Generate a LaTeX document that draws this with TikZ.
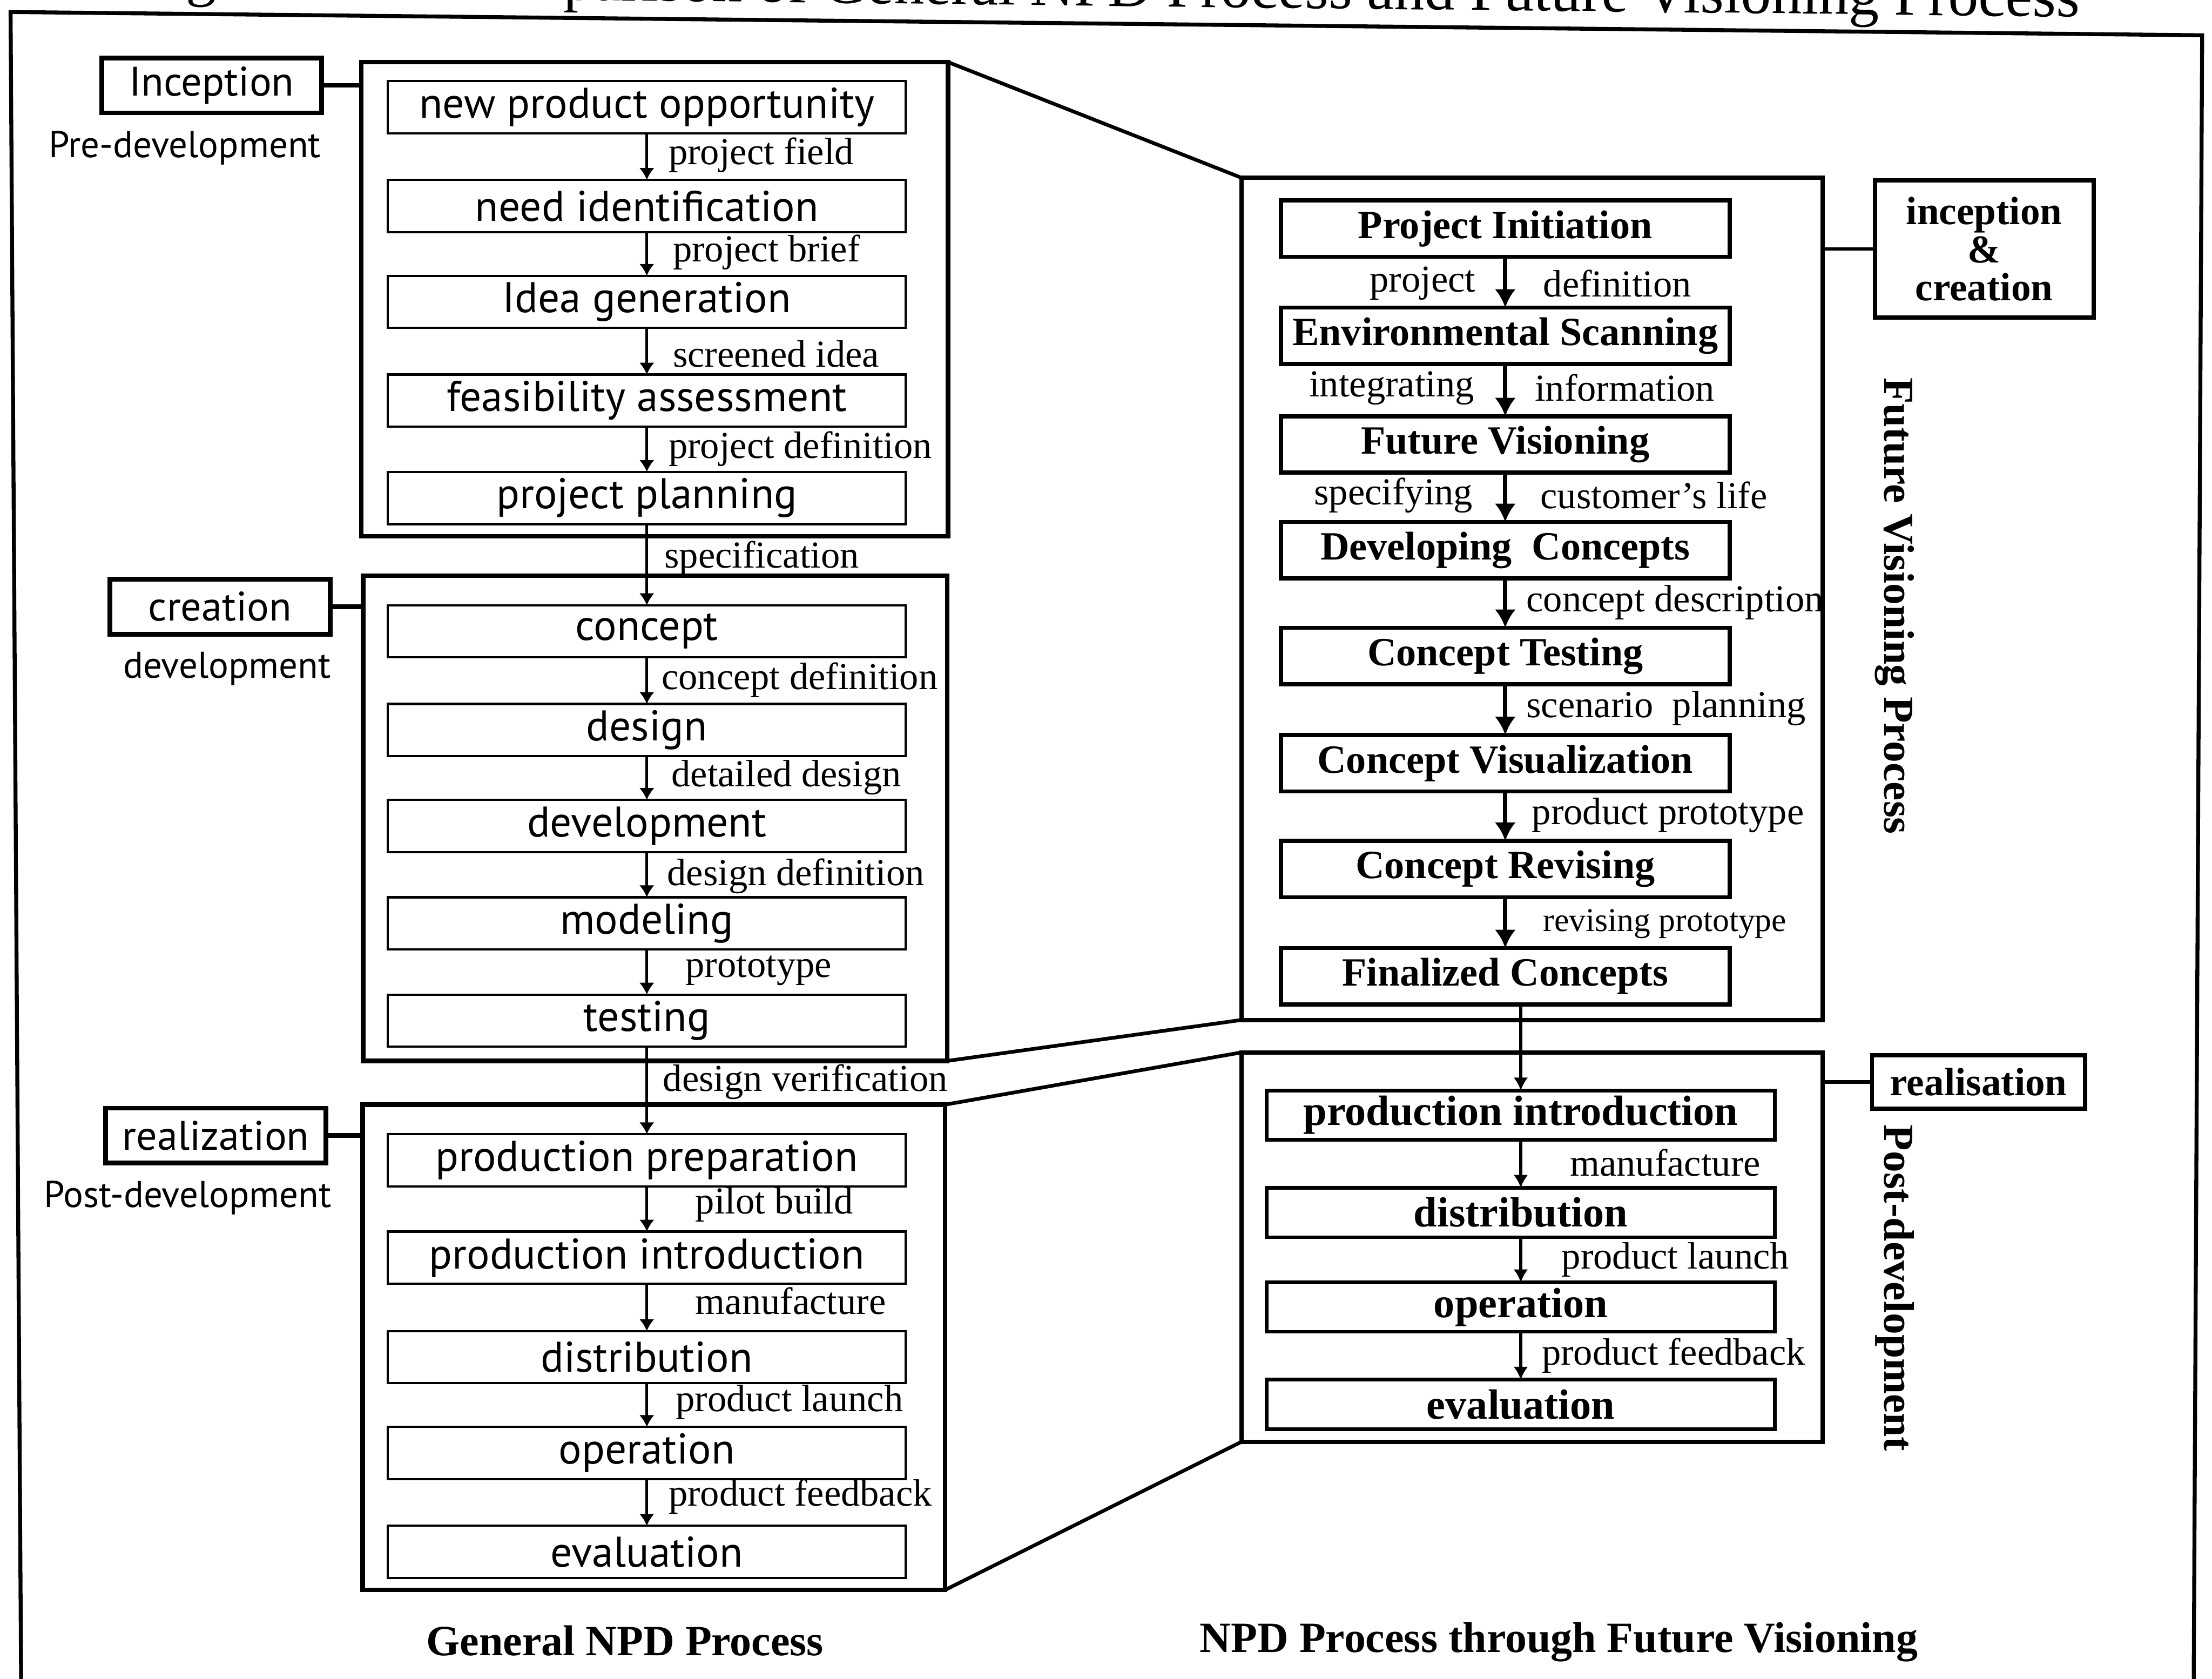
\documentclass[tikz,border=0pt]{standalone}
\usepackage{fontspec}
\setmainfont{Liberation Serif}
\newfontfamily\stagefont{PT Sans}
\usetikzlibrary{arrows.meta}

\begin{document}
\begin{tikzpicture}[x=0.5pt,y=-0.5pt,
  every node/.style={inner sep=0pt, outer sep=0pt},
  stage/.style={draw, line width=0.8pt, minimum width=183.5pt, minimum height=18.5pt,
    font=\stagefont\fontsize{15.2}{18}\selectfont},
  fvstage/.style={draw, line width=1.5pt, minimum width=159pt, minimum height=20pt,
    font=\bfseries\fontsize{14.2}{17}\selectfont},
  rlstage/.style={draw, line width=1.3pt, minimum width=180pt, minimum height=17.5pt,
    font=\bfseries\fontsize{15}{18}\selectfont},
  group/.style={draw, line width=1.6pt},
  phase/.style={draw, line width=1.7pt, minimum width=78pt, minimum height=19.5pt,
    font=\stagefont\fontsize{14.6}{17}\selectfont},
  rphase/.style={draw, line width=1.5pt, font=\bfseries\fontsize{14}{13.5}\selectfont, align=center},
  period/.style={font=\stagefont\fontsize{13.2}{16}\selectfont},
  lab/.style={font=\fontsize{13.5}{16}\selectfont},
  arr/.style={-{Latex[length=4.2pt,width=5.4pt]}, line width=1pt},
  parr/.style={-{Latex[length=4.6pt,width=5.2pt]}, line width=1pt},
  barr/.style={-{Latex[length=6.5pt,width=7.5pt]}, line width=1.5pt},
  link/.style={line width=1.3pt},
  caption/.style={font=\bfseries\fontsize{15.3}{18}\selectfont}
]
\useasboundingbox (0,0) rectangle (1568,1190);

% caption line above the frame, cut by the page edge
\begin{scope}
  \clip (0,0) rectangle (1568,1190);
  \node[anchor=base west, rotate=-0.5, font=\fontsize{21.5}{24}\selectfont] (figlbl) at (96,-4.5) {Figure};
  \node[anchor=base west, rotate=-0.64, font=\fontsize{21.5}{24}\selectfont] (figtitle) at (316,-1)
    {Comparison of General NPD Process and Future Visioning Process};
\end{scope}

% outer frame
\draw[line width=1.4pt, line join=miter] (15,1196) -- (7.5,8.5) -- (1561,25) -- (1555,1196);

% ---------------- General NPD process ----------------
\node[group, minimum width=208pt, minimum height=168pt] (g1) at (464,212) {};
\node[group, minimum width=207pt, minimum height=172pt] (g2) at (464.5,580) {};
\node[group, minimum width=206.5pt, minimum height=172pt] (g3) at (463.5,955) {};

\node[stage] (s1) at (458.5,76) {new product opportunity};
\node[stage] (s2) at (458.5,146) {need identification};
\node[stage] (s3) at (458.5,214) {Idea generation};
\node[stage] (s4) at (458.5,284) {feasibility assessment};
\node[stage] (s5) at (458.5,353) {project planning};
\node[stage] (s6) at (458.5,447.5) {concept};
\node[stage] (s7) at (458.5,517.5) {design};
\node[stage] (s8) at (458.5,585.5) {development};
\node[stage] (s9) at (458.5,654.5) {modeling};
\node[stage] (s10) at (458.5,723.5) {testing};
\node[stage] (s11) at (458.5,822.5) {production preparation};
\node[stage] (s12) at (458.5,891.5) {production introduction};
\node[stage] (s13) at (458.5,962) {distribution};
\node[stage] (s14) at (458.5,1030) {operation};
\node[stage] (s15) at (458.5,1100) {evaluation};

\foreach \a/\b in {s1/s2,s2/s3,s3/s4,s4/s5,s5/s6,s6/s7,s7/s8,s8/s9,s9/s10,s10/s11,s11/s12,s12/s13,s13/s14,s14/s15}
  \draw[arr] (\a) -- (\b);

\node[lab, anchor=west] (l1) at (474,110) {project field};
\node[lab, anchor=west] (l2) at (477,179) {project brief};
\node[lab, anchor=west] (l3) at (477,251) {screened idea};
\node[lab, anchor=west] (l4) at (474,318) {project definition};
\node[lab, anchor=west] (l5) at (471,396) {specification};
\node[lab, anchor=west] (l6) at (469,482) {concept definition};
\node[lab, anchor=west] (l7) at (476,551) {detailed design};
\node[lab, anchor=west] (l8) at (473,621) {design definition};
\node[lab, anchor=west] (l9) at (486,688) {prototype};
\node[lab, anchor=west] (l10) at (470,767) {design verification};
\node[lab, anchor=west] (l11) at (493,854) {pilot build};
\node[lab, anchor=west] (l12) at (493,922) {manufacture};
\node[lab, anchor=west] (l13) at (479,994) {product launch};
\node[lab, anchor=west] (l14) at (474,1061) {product feedback};

% phase tags on the left
\node[phase] (inc) at (150,60.5) {Inception};
\node[phase] (cre) at (156,430) {creation};
\node[phase] (rea) at (153,805) {realization};
\draw[line width=1.7pt] (inc) -- (inc -| g1.west);
\draw[line width=1.7pt] (cre) -- (cre -| g2.west);
\draw[line width=1.7pt] (rea) -- (rea -| g3.west);
\node[period] (pre) at (131,105) {Pre-development};
\node[period] (dev) at (161,474) {development};
\node[period] (post) at (133,849) {Post-development};

% ---------------- NPD through future visioning ----------------
\node[group, minimum width=206pt, minimum height=298.5pt] (fv) at (1086,424.5) {};
\node[group, minimum width=206pt, minimum height=138pt] (pd) at (1086,884) {};

\draw[link] (g1.north east) -- (fv.north west);
\draw[link] (g2.south east) -- (fv.south west);
\draw[link] (g3.north east) -- (pd.north west);
\draw[link] (g3.south east) -- (pd.south west);

\node[fvstage] (f1) at (1067,162) {Project Initiation};
\node[fvstage] (f2) at (1067,238) {Environmental Scanning};
\node[fvstage] (f3) at (1067,315) {Future Visioning};
\node[fvstage] (f4) at (1067,390) {Developing\ \ Concepts};
\node[fvstage] (f5) at (1067,465) {Concept Testing};
\node[fvstage] (f6) at (1067,541) {Concept Visualization};
\node[fvstage] (f7) at (1067,616) {Concept Revising};
\node[fvstage] (f8) at (1067,692) {Finalized Concepts};
\foreach \a/\b in {f1/f2,f2/f3,f3/f4,f4/f5,f5/f6,f6/f7,f7/f8}
  \draw[barr] (\a) -- (\b);

\node[lab, anchor=east] (r1a) at (1046,201) {project};
\node[lab, anchor=west] (r1b) at (1094,201) {definition};
\node[lab, anchor=east] (r2a) at (1045,275) {integrating};
\node[lab, anchor=west] (r2b) at (1088,275) {information};
\node[lab, anchor=east] (r3a) at (1044,351) {specifying};
\node[lab, anchor=west] (r3b) at (1092,351) {customer's life};
\node[lab, anchor=west] (r4) at (1082,427) {concept description};
\node[lab, anchor=west] (r5) at (1082,502) {scenario\ \ planning};
\node[lab, anchor=west] (r6) at (1086,578) {product prototype};
\node[lab, anchor=west, font=\fontsize{11.8}{14}\selectfont] (r7) at (1094,655) {revising prototype};

\node[rlstage] (p1) at (1078,790.5) {production introduction};
\node[rlstage] (p2) at (1078,859.5) {distribution};
\node[rlstage] (p3) at (1078,926.5) {operation};
\node[rlstage] (p4) at (1078,995.5) {evaluation};
\draw[parr] (f8.south -| p1) -- (p1);
\foreach \a/\b in {p1/p2,p2/p3,p3/p4}
  \draw[parr] (\a) -- (\b);
\node[lab, anchor=west] (q1) at (1113,824) {manufacture};
\node[lab, anchor=west] (q2) at (1107,893) {product launch};
\node[lab, anchor=west] (q3) at (1093,961) {product feedback};

% phase tags on the right
\node[rphase, minimum width=77.5pt, minimum height=48.5pt] (ic) at (1406.5,176.5) {inception\\\&\\creation};
\node[rphase, minimum width=75.5pt, minimum height=19pt] (rls) at (1402.5,767) {realisation};
\draw[line width=1.3pt] (ic) -- (ic -| fv.east);
\draw[line width=1.3pt] (rls) -- (rls -| pd.east);
\node[rotate=-90, font=\bfseries\fontsize{15.2}{18}\selectfont] (fvp) at (1343,429.5) {Future Visioning Process};
\node[rotate=-90, font=\bfseries\fontsize{15.2}{18}\selectfont] (pdv) at (1343,913) {Post-development};

% captions
\node[caption] (cap1) at (443,1163) {General NPD Process};
\node[caption] (cap2) at (1105,1164) {NPD Process through Future Visioning};
\end{tikzpicture}
\end{document}
